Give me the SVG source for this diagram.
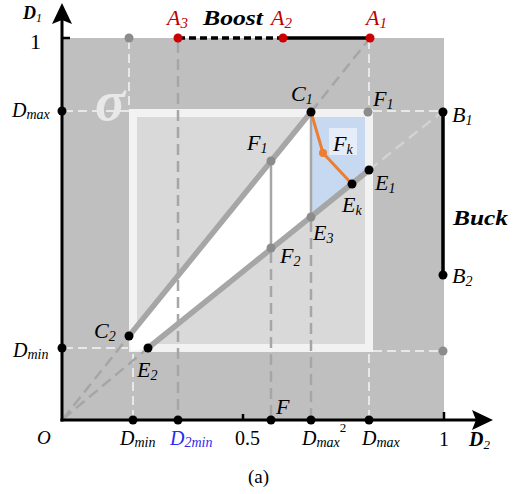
<svg xmlns="http://www.w3.org/2000/svg" width="522" height="494" viewBox="0 0 522 494" font-family="Liberation Serif, Times New Roman, serif">
<style>
.t{font-style:italic;fill:#000}
.r{fill:#000}
.b{font-style:italic;font-weight:bold;fill:#000}
.red{fill:#c00000}
.blue{fill:#2b2bf2}
.wd{stroke:#e8e8e8;stroke-width:2;stroke-dasharray:9 5;fill:none}
.gd{stroke:#a6a6a6;stroke-width:2.5;stroke-dasharray:11 6;fill:none}
.thick{stroke:#a6a6a6;stroke-width:5.5;fill:none;stroke-linecap:round}
.thin{stroke:#a6a6a6;stroke-width:2.5;fill:none}
.bk{fill:#000}
.gy{fill:#8c8c8c}
.rd{fill:#cc0000}
</style>
<g id="background">
<rect x="62" y="38" width="382" height="382" fill="#bfbfbf"/>
<rect x="133" y="113" width="236" height="235" fill="#d9d9d9" stroke="#f2f2f2" stroke-width="8"/>
<polygon points="129,336 311,112 311,217 148,348 131,351" fill="#ffffff"/>
<polygon points="311,117 365,117 365,173.6 311,217" fill="#c6d9f1"/>
</g>
<g id="connectors">
<line class="wd" x1="129" y1="40" x2="129" y2="108"/>
<line class="wd" x1="369" y1="40" x2="369" y2="108"/>
<line class="wd" x1="64" y1="111" x2="129" y2="111"/>
<line class="wd" x1="373" y1="111" x2="441" y2="111"/>
<line class="wd" x1="64" y1="348" x2="128" y2="348"/>
<line class="wd" x1="133" y1="354" x2="133" y2="418"/>
<line class="wd" x1="369" y1="354" x2="369" y2="418"/>
<line class="wd" x1="373" y1="351" x2="441" y2="351"/>
<line class="gd" x1="178" y1="42" x2="178" y2="418"/>
<line class="gd" x1="271" y1="252" x2="271" y2="418"/>
<line class="gd" x1="311" y1="221" x2="311" y2="418"/>
<line class="gd" x1="63" y1="419" x2="129" y2="336"/>
<line class="gd" x1="311" y1="112" x2="370" y2="38"/>
<line class="gd" x1="63" y1="419" x2="148" y2="348"/>
<line stroke="#d2d2d2" stroke-width="2.5" stroke-dasharray="11 6" x1="369" y1="170" x2="443" y2="111"/>
<line class="thin" x1="271" y1="161" x2="271" y2="248"/>
<line class="thin" x1="311" y1="112" x2="311" y2="217"/>
<line class="thick" x1="129" y1="336" x2="311" y2="112"/>
<line class="thick" x1="148" y1="348" x2="369" y2="170"/>
<polyline points="311,112 323,153 352,184" fill="none" stroke="#ed7d31" stroke-width="3"/>
<line x1="178" y1="38" x2="283" y2="38" stroke="#000" stroke-width="3.5" stroke-dasharray="7 4"/>
<line x1="283" y1="38" x2="370" y2="38" stroke="#000" stroke-width="3.5"/>
<line x1="443" y1="112" x2="443" y2="275" stroke="#000" stroke-width="3.5"/>
</g>
<g id="axes">
<line x1="62" y1="421.5" x2="62" y2="18" stroke="#000" stroke-width="3"/>
<polygon points="62,3 72,24 62,20 52,24" fill="#000"/>
<line x1="60.5" y1="420" x2="478" y2="420" stroke="#000" stroke-width="3"/>
<polygon points="493,420 472,430 476,420 472,410" fill="#000"/>
<line x1="62" y1="38" x2="70" y2="38" stroke="#000" stroke-width="2.5"/>
<line x1="444" y1="420" x2="444" y2="412" stroke="#000" stroke-width="2.5"/>
<line x1="243" y1="420" x2="243" y2="414" stroke="#000" stroke-width="2.5"/>
<text class="b" x="23" y="19" font-size="18">D<tspan class="t" font-weight="normal" font-size="12" dy="3">1</tspan></text>
<text class="r" x="30" y="49" font-size="22">1</text>
<text class="t" x="12" y="117" font-size="20">D<tspan font-size="14" dy="2">max</tspan></text>
<text class="t" x="13" y="357" font-size="20">D<tspan font-size="14" dy="2">min</tspan></text>
<text class="t" x="37" y="444" font-size="19">O</text>
<text class="t" x="120" y="445" font-size="20">D<tspan font-size="14" dy="2">min</tspan></text>
<text class="t blue" x="170" y="445" font-size="20">D<tspan font-size="14" dy="2">2min</tspan></text>
<text class="r" x="235" y="445" font-size="20">0.5</text>
<text class="t" x="302" y="445" font-size="20">D<tspan font-size="14" dy="2">max</tspan><tspan font-size="13" dy="-15" font-style="normal">2</tspan></text>
<text class="t" x="362" y="445" font-size="20">D<tspan font-size="14" dy="2">max</tspan></text>
<text class="r" x="439" y="446" font-size="20">1</text>
<text class="b" x="469" y="446" font-size="20">D<tspan font-weight="normal" font-size="13" dy="3">2</tspan></text>
<text class="r" x="248" y="483" font-size="19">(a)</text>
</g>
<g id="sigma"><text x="95" y="120" font-size="56" font-style="italic" font-weight="bold" fill="#e8e8e8">σ</text></g>
<g id="A3"><circle class="rd" cx="178" cy="38" r="4.5"/><text class="t red" x="167" y="25" font-size="22">A<tspan font-size="15" dy="3">3</tspan></text></g>
<g id="boost"><text class="b" x="203" y="25" font-size="22" textLength="60" lengthAdjust="spacingAndGlyphs">Boost</text></g>
<g id="A2"><circle class="rd" cx="283" cy="38" r="4.5"/><text class="t red" x="271" y="25" font-size="22">A<tspan font-size="15" dy="3">2</tspan></text></g>
<g id="A1"><circle class="rd" cx="370" cy="38" r="4.5"/><text class="t red" x="366" y="25" font-size="22">A<tspan font-size="15" dy="3">1</tspan></text></g>
<g id="topgray"><circle class="gy" cx="129" cy="38" r="4.5"/></g>
<g id="Dmax-y"><circle class="bk" cx="62" cy="111" r="4.5"/></g>
<g id="Dmin-y"><circle class="bk" cx="62" cy="348" r="4.5"/></g>
<g id="Dmin-x"><circle class="bk" cx="133" cy="420" r="4.5"/></g>
<g id="D2min-x"><circle class="bk" cx="178" cy="420" r="4.5"/></g>
<g id="F"><circle class="bk" cx="271" cy="420" r="4.5"/><text class="t" x="276" y="414" font-size="22">F</text></g>
<g id="Dmax2-x"><circle class="bk" cx="311" cy="420" r="4.5"/></g>
<g id="Dmax-x"><circle class="bk" cx="369" cy="420" r="4.5"/></g>
<g id="grayRight"><circle class="gy" cx="443" cy="351" r="4.5"/></g>
<g id="C1"><circle class="bk" cx="311" cy="112" r="4.5"/><text class="t" x="291" y="101" font-size="22">C<tspan font-size="14" dy="3">1</tspan></text></g>
<g id="F1r"><circle class="gy" cx="368" cy="112" r="4.5"/><text class="t" x="373" y="106" font-size="22">F<tspan font-size="14" dy="3">1</tspan></text></g>
<g id="B1"><circle class="bk" cx="443" cy="112" r="4.5"/><text class="t" x="452" y="122" font-size="22">B<tspan font-size="14" dy="3">1</tspan></text></g>
<g id="Fk"><rect x="329" y="128" width="28" height="27" fill="#e4edf8"/><circle cx="323" cy="153" r="4" fill="#ed7d31"/><text class="t" x="333" y="151" font-size="22">F<tspan font-size="14" dy="3">k</tspan></text></g>
<g id="F1l"><circle class="gy" cx="271" cy="161" r="4.5"/><text class="t" x="247" y="150" font-size="22">F<tspan font-size="14" dy="3">1</tspan></text></g>
<g id="E1"><circle class="bk" cx="369" cy="170" r="4.5"/><text class="t" x="375" y="190" font-size="22">E<tspan font-size="14" dy="3">1</tspan></text></g>
<g id="Ek"><circle class="bk" cx="352" cy="184" r="4.5"/><text class="t" x="342" y="212" font-size="22">E<tspan font-size="14" dy="3">k</tspan></text></g>
<g id="E3"><circle class="gy" cx="311" cy="217" r="4.5"/><text class="t" x="313" y="240" font-size="22">E<tspan font-size="14" dy="3">3</tspan></text></g>
<g id="F2"><circle class="gy" cx="271" cy="248" r="4.5"/><text class="t" x="280" y="263" font-size="22">F<tspan font-size="14" dy="3">2</tspan></text></g>
<g id="buck"><text class="b" x="453" y="225" font-size="22" textLength="55" lengthAdjust="spacingAndGlyphs">Buck</text></g>
<g id="B2"><circle class="bk" cx="443" cy="275" r="4.5"/><text class="t" x="452" y="283" font-size="22">B<tspan font-size="14" dy="3">2</tspan></text></g>
<g id="C2"><circle class="bk" cx="129" cy="336" r="4.5"/><text class="t" x="94" y="338" font-size="22">C<tspan font-size="14" dy="3">2</tspan></text></g>
<g id="E2"><circle class="bk" cx="148" cy="348" r="4.5"/><text class="t" x="137" y="377" font-size="22">E<tspan font-size="14" dy="3">2</tspan></text></g>
</svg>
